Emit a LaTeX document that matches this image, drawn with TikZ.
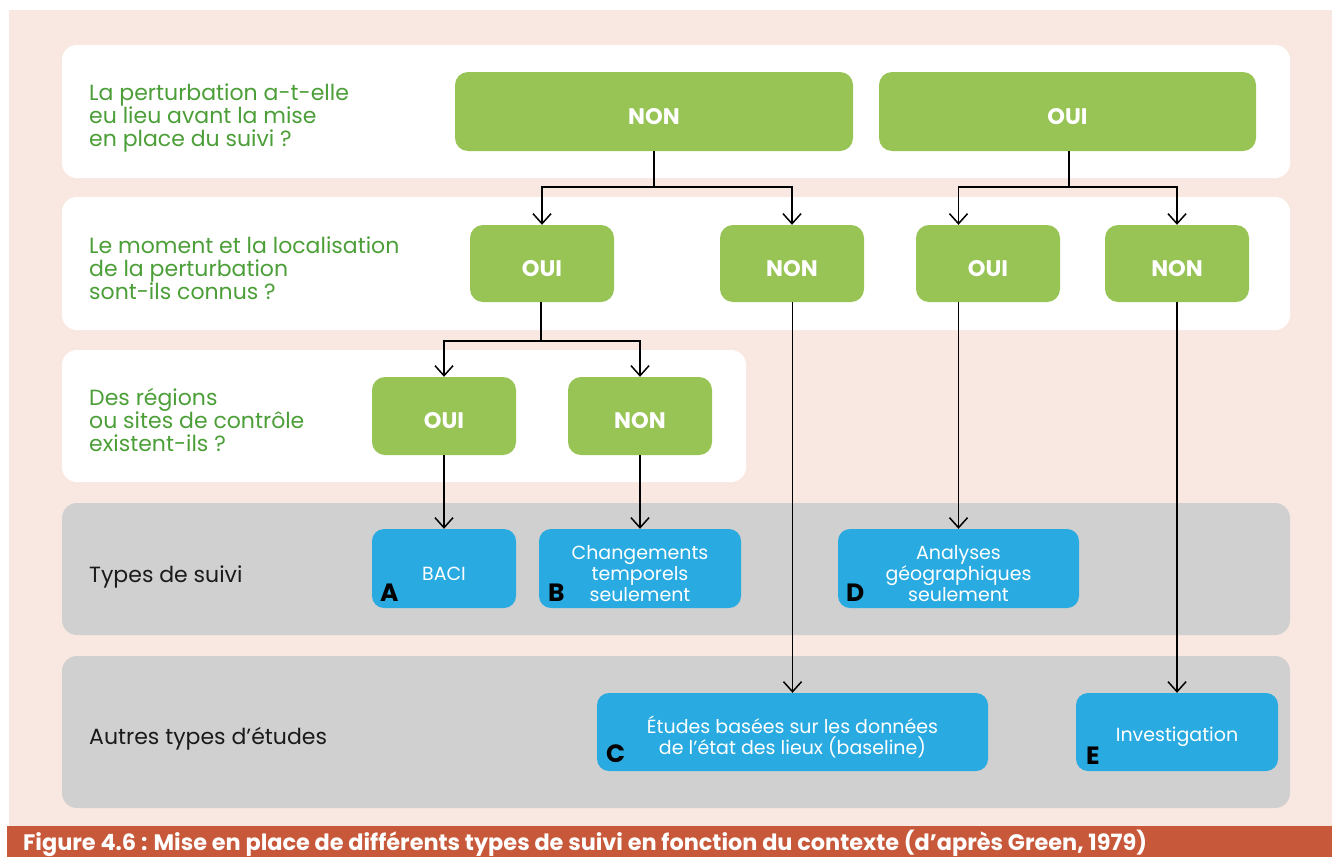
\documentclass[tikz,border=0pt]{standalone}
\usepackage{fontspec}
\setmainfont{Poppins}
\usetikzlibrary{arrows.meta}
\definecolor{bgpink}{HTML}{F8E8E1}
\definecolor{panelgrey}{HTML}{D0D0D0}
\definecolor{boxgreen}{HTML}{97C455}
\definecolor{txtgreen}{HTML}{4C9F38}
\definecolor{boxblue}{HTML}{29ABE2}
\definecolor{capred}{HTML}{C8583A}
\definecolor{darktxt}{HTML}{1A1A1A}
\tikzset{
  panel/.style={rounded corners=15pt, inner sep=0pt, draw=none},
  gbox/.style={fill=boxgreen, rounded corners=13pt, inner sep=0pt, draw=none,
    text=white, text height=25pt, text depth=0pt,
    font=\fontsize{22.5}{24}\selectfont\bfseries},
  bbox/.style={fill=boxblue, rounded corners=12pt, inner sep=0pt, draw=none},
  btext/.style={text=white, align=center, inner sep=0pt,
    font=\fontsize{19}{21.3}\selectfont},
  question/.style={anchor=base west, align=left, inner sep=0pt, text=txtgreen,
    font=\fontsize{22}{23}\selectfont},
  rowlabel/.style={anchor=base west, inner sep=0pt, text=darktxt,
    font=\fontsize{22}{23}\selectfont},
  letter/.style={anchor=south west, inner sep=0pt, text=black,
    font=\fontsize{25}{25}\selectfont\bfseries},
  conn/.style={line width=1.5pt, draw=black, -{Straight Barb[length=10pt,width=18pt,line width=1.5pt]}},
  plain/.style={line width=1.5pt, draw=black}
}
\begin{document}
\begin{tikzpicture}[x=1pt,y=-1pt]
\useasboundingbox (0,0) rectangle (1332,857);
\fill[white] (0,0) rectangle (1332,857);
\fill[bgpink] (9,10) rectangle (1332,826);
\fill[capred] (7,826) rectangle (1332,857);

% panels
\node[panel, fill=white, minimum width=1228pt, minimum height=133pt] (p1) at (676,111.5) {};
\node[panel, fill=white, minimum width=1228pt, minimum height=133pt] (p2) at (676,263.5) {};
\node[panel, fill=white, minimum width=684pt, minimum height=132pt] (p3) at (404,416) {};
\node[panel, fill=panelgrey, minimum width=1228pt, minimum height=132pt] (p4) at (676,569) {};
\node[panel, fill=panelgrey, minimum width=1228pt, minimum height=152pt] (p5) at (676,732) {};

% questions (anchor = baseline of last line)
\node[question] (q1) at (89,146) {La perturbation a-t-elle\\eu lieu avant la mise\\en place du suivi ?};
\node[question] (q2) at (89,299) {Le moment et la localisation\\de la perturbation\\sont-ils connus ?};
\node[question] (q3) at (89,451) {Des régions\\ou sites de contrôle\\existent-ils ?};
\node[rowlabel] (r4) at (89,582) {Types de suivi};
\node[rowlabel] (r5) at (89,744) {Autres types d’études};

% green boxes
\node[gbox, minimum width=398pt, minimum height=79pt] (nonA) at (654,111.5) {NON};
\node[gbox, minimum width=377pt, minimum height=79pt] (ouiA) at (1067.5,111.5) {OUI};
\node[gbox, minimum width=144pt, minimum height=77pt] (ouiB1) at (542,263.5) {OUI};
\node[gbox, minimum width=144pt, minimum height=77pt] (nonB2) at (792,263.5) {NON};
\node[gbox, minimum width=144pt, minimum height=77pt] (ouiB3) at (988,263.5) {OUI};
\node[gbox, minimum width=144pt, minimum height=77pt] (nonB4) at (1177,263.5) {NON};
\node[gbox, minimum width=144pt, minimum height=78pt] (ouiC1) at (444,416) {OUI};
\node[gbox, minimum width=144pt, minimum height=78pt] (nonC2) at (640,416) {NON};

% blue boxes
\node[bbox, minimum width=144pt, minimum height=79pt] (bA) at (444,568.5) {};
\node[bbox, minimum width=202pt, minimum height=79pt] (bB) at (640,568.5) {};
\node[bbox, minimum width=241pt, minimum height=79pt] (bD) at (958.5,568.5) {};
\node[bbox, minimum width=391pt, minimum height=78pt] (bC) at (792.5,732) {};
\node[bbox, minimum width=202pt, minimum height=78pt] (bE) at (1177,732) {};
\node[btext] (tA) at ([yshift=-5pt]bA.center) {BACI};
\node[btext] (tB) at ([yshift=-5pt]bB.center) {Changements\\temporels\\seulement};
\node[btext] (tD) at ([yshift=-5pt]bD.center) {Analyses\\géographiques\\seulement};
\node[btext] (tC) at ([yshift=-5pt]bC.center) {Études basées sur les données\\de l’état des lieux (baseline)};
\node[btext] (tE) at ([yshift=-5pt]bE.center) {Investigation};

% letters
\node[letter] (lA) at ([xshift=8pt,yshift=7pt]bA.south west) {A};
\node[letter] (lB) at ([xshift=9pt,yshift=7pt]bB.south west) {B};
\node[letter] (lD) at ([xshift=8pt,yshift=7pt]bD.south west) {D};
\node[letter] (lC) at ([xshift=9pt,yshift=8pt]bC.south west) {C};
\node[letter] (lE) at ([xshift=10pt,yshift=7pt]bE.south west) {E};

% caption
\node[anchor=base west, inner sep=0pt, text=white, font=\fontsize{22.4}{24}\selectfont\bfseries] (cap) at (23,850.5) {Figure 4.6 : Mise en place de différents types de suivi en fonction du contexte (d’après Green, 1979)};

% junctions
\coordinate (j1) at (654,187);
\coordinate (j2) at (1069,187);
\coordinate (j3) at (541,341);

% connectors
\draw[plain] (nonA.south) -- (j1);
\draw[conn] (j1) -| (ouiB1.north);
\draw[conn] (j1) -| (nonB2.north);
\draw[plain] (ouiA.south -| j2) -- (j2);
\draw[conn] (j2) -| (bD.north |- ouiB3.north);
\draw[conn] (j2) -| (nonB4.north);
\draw[plain] (ouiB1.south -| j3) -- (j3);
\draw[conn] (j3) -| (ouiC1.north);
\draw[conn] (j3) -| (nonC2.north);
\draw[conn] (nonB2.south -| bC.north) -- (bC.north);
\draw[conn] (bD.north |- ouiB3.south) -- (bD.north);
\draw[conn] (nonB4.south) -- (bE.north);
\draw[conn] (ouiC1.south) -- (bA.north);
\draw[conn] (nonC2.south) -- (bB.north);
\end{tikzpicture}
\end{document}
